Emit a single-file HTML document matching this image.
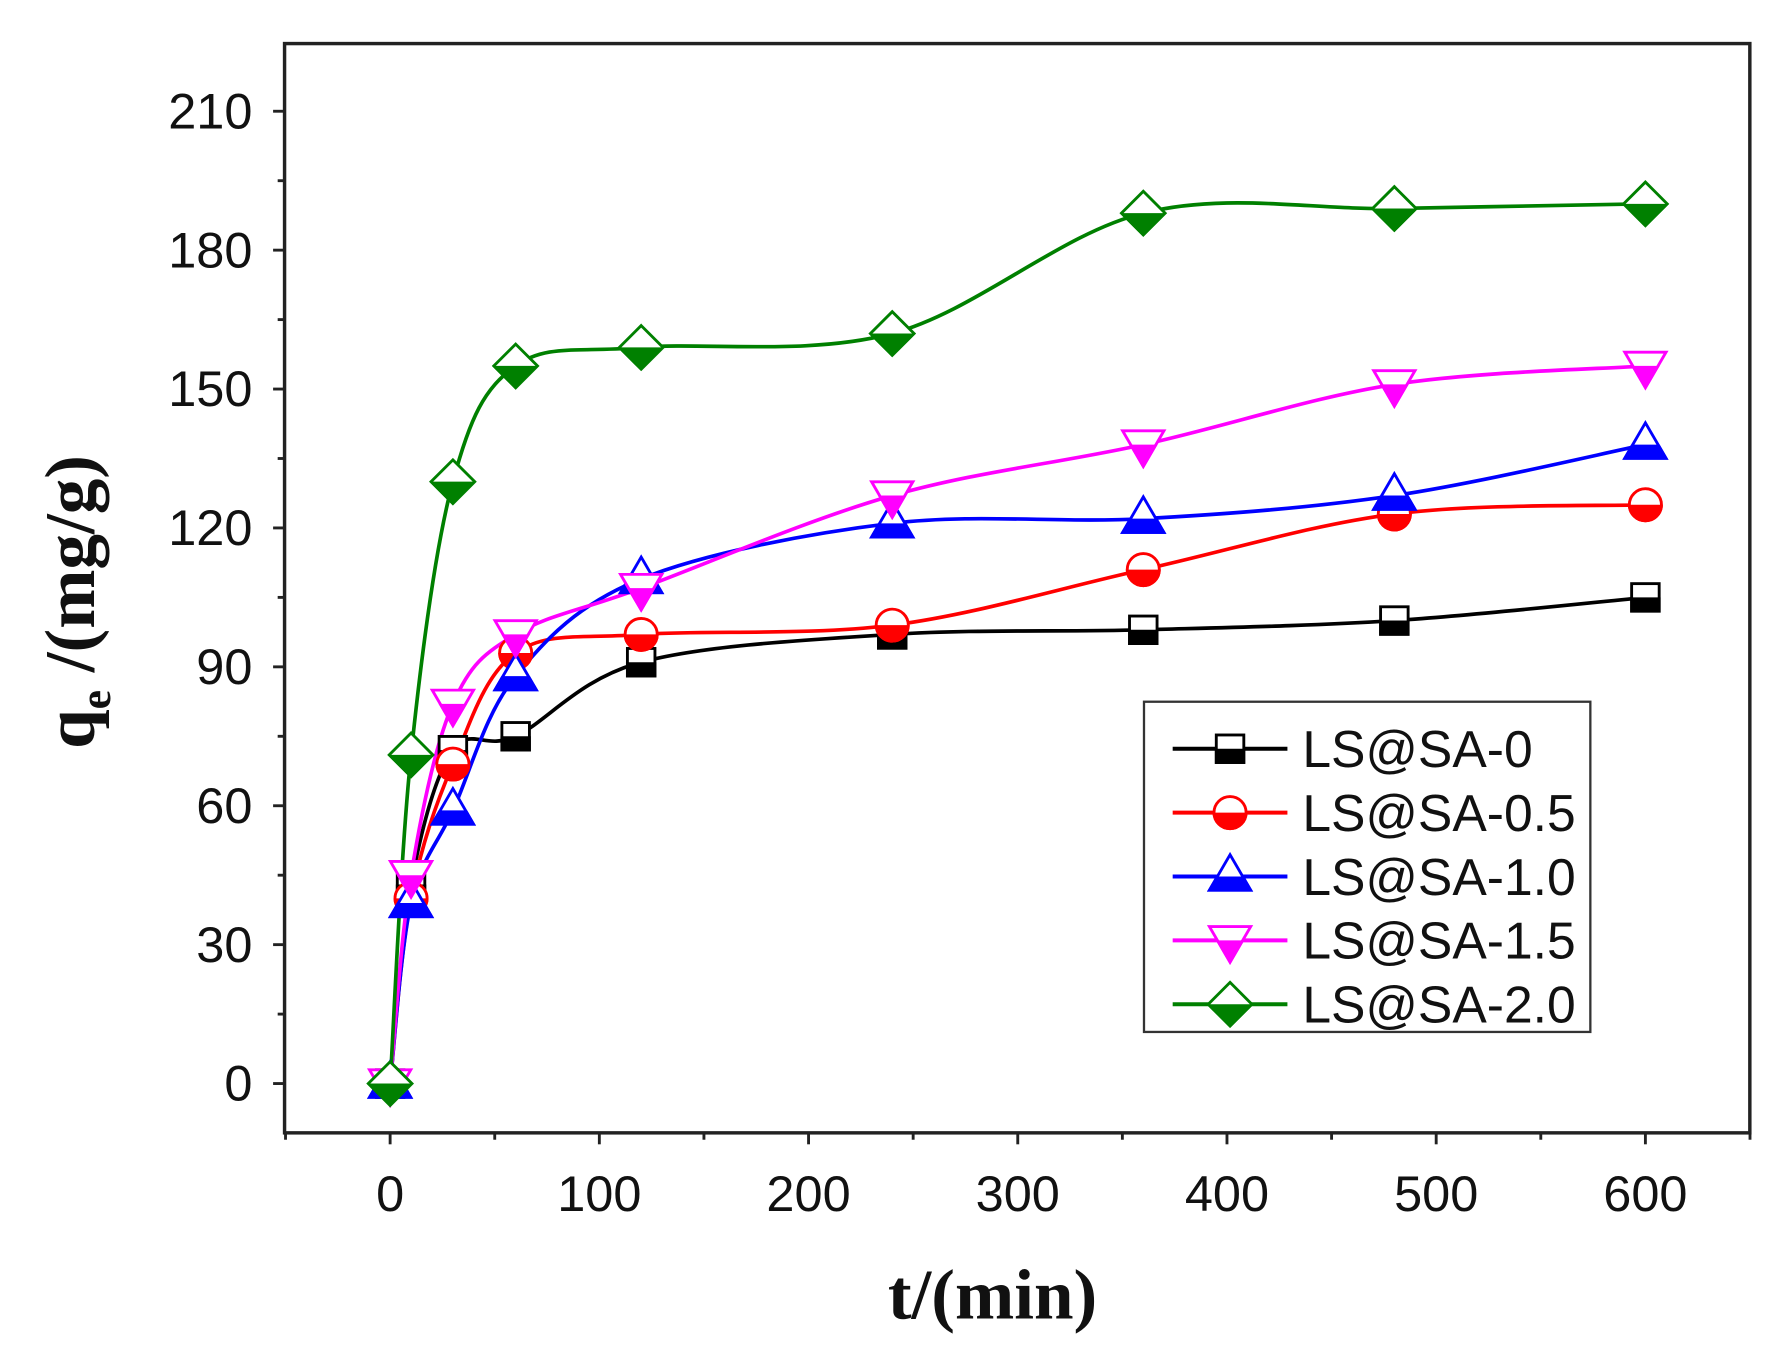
<!DOCTYPE html>
<html><head><meta charset="utf-8"><style>
html,body{margin:0;padding:0;background:#fff;width:1790px;height:1353px;overflow:hidden}
svg{display:block}
</style></head><body>
<svg id="s" width="1790" height="1353" viewBox="0 0 1560 1180" preserveAspectRatio="none" xmlns="http://www.w3.org/2000/svg">
<defs><clipPath id="lh" clipPathUnits="userSpaceOnUse"><rect x="-30" y="0" width="60" height="30"/></clipPath></defs>
<rect x="0" y="0" width="1560" height="1180" fill="#fff"/>
<g id="plot"></g>
<rect x="248" y="38" width="1277" height="950" fill="none" stroke="#222" stroke-width="3"/>
<g id="ax" stroke="#222" stroke-width="2.5"></g>
<g font-family="Liberation Sans, sans-serif" font-size="44" fill="#111" id="lab"></g>
<text x="865" y="1150" text-anchor="middle" font-family="Liberation Serif, serif" font-weight="bold" font-size="62" fill="#111">t/(min)</text>
<text transform="translate(82,525) rotate(-90)" text-anchor="middle" font-family="Liberation Serif, serif" font-weight="bold" font-size="62" fill="#111">q<tspan font-size="38" dy="14">e</tspan><tspan dy="-14"> /(mg/g)</tspan></text>
<rect x="997" y="612" width="389" height="288" fill="#fff" stroke="#333" stroke-width="2"/>
<g id="leg"></g>
</svg>
<script>
const NS="http://www.w3.org/2000/svg";
function el(p,t,a){const e=document.createElementNS(NS,t);for(const k in a)e.setAttribute(k,a[k]);p.appendChild(e);return e;}
const X=t=>340+t*1.8233, Y=v=>945-v*4.038;
const ax=document.getElementById('ax'), lab=document.getElementById('lab');
for(let v=0;v<=210;v+=15){const y=Y(v);el(ax,'line',{x1:248,x2:v%30==0?238:242,y1:y,y2:y});
 if(v%30==0){const t=el(lab,'text',{x:220,y:y+15,'text-anchor':'end'});t.textContent=v;}}
for(let t=-50;t<=650;t+=50){const x=X(t);el(ax,'line',{x1:x,x2:x,y1:988,y2:t%100==0?998:994});
 if(t%100==0&&t>=0){const e=el(lab,'text',{x:x,y:1056,'text-anchor':'middle'});e.textContent=t;}}
const T=[0,10,30,60,120,240,360,480,600];
const S=[
 ['#000','sq',[0,43,72,75,91,97,98,100,105],'LS@SA-0'],
 ['#f00','ci',[0,40,69,93,97,99,111,123,125],'LS@SA-0.5'],
 ['#00f','tu',[0,39,59,88,109,121,122,127,138],'LS@SA-1.0'],
 ['#f0f','td',[0,45,82,97,107,127,138,151,155],'LS@SA-1.5'],
 ['#008000','di',[0,71,130,155,159,162,188,189,190],'LS@SA-2.0']];
function shape(g,type,c,fill,stroke){
 const a={fill:fill,stroke:stroke,'stroke-width':2.5};
 if(type=='sq')return el(g,'rect',Object.assign({x:-12,y:-12,width:24,height:24},a));
 if(type=='ci')return el(g,'circle',Object.assign({r:14},a));
 if(type=='tu')return el(g,'polygon',Object.assign({points:'0,-19 18,12 -18,12'},a));
 if(type=='td')return el(g,'polygon',Object.assign({points:'0,19 18,-12 -18,-12'},a));
 return el(g,'polygon',Object.assign({points:'0,-19 19,0 0,19 -19,0'},a));
}
function marker(p,x,y,type,c){const g=el(p,'g',{transform:`translate(${x},${y})`});
 shape(g,type,c,'#fff',c);const h=shape(g,type,c,c,c);h.setAttribute('clip-path','url(#lh)');}
const plot=document.getElementById('plot');
S.forEach(([c,type,v])=>{
 const P=T.map((t,i)=>[X(t),Y(v[i])]);
 let d=`M${P[0][0]},${P[0][1]}`;
 for(let i=0;i<P.length-1;i++){const p0=P[Math.max(i-1,0)],p1=P[i],p2=P[i+1],p3=P[Math.min(i+2,P.length-1)];
  const k=6;d+=`C${p1[0]+(p2[0]-p0[0])/k},${p1[1]+(p2[1]-p0[1])/k} ${p2[0]-(p3[0]-p1[0])/k},${p2[1]-(p3[1]-p1[1])/k} ${p2[0]},${p2[1]}`;}
 el(plot,'path',{d:d,fill:'none',stroke:c,'stroke-width':3.2});
});
S.forEach(([c,type,v])=>{T.forEach((t,i)=>marker(plot,X(t),Y(v[i]),type,c));});
const leg=document.getElementById('leg');
S.forEach(([c,type,v,name],i)=>{const y=653+i*55.7;
 el(leg,'line',{x1:1022,x2:1122,y1:y,y2:y,stroke:c,'stroke-width':3.5});
 marker(leg,1072,y,type,c);
 const t=el(leg,'text',{x:1135,y:y+16,'font-family':'Liberation Sans, sans-serif','font-size':45,fill:'#111'});t.textContent=name;});
</script>
</body></html>
